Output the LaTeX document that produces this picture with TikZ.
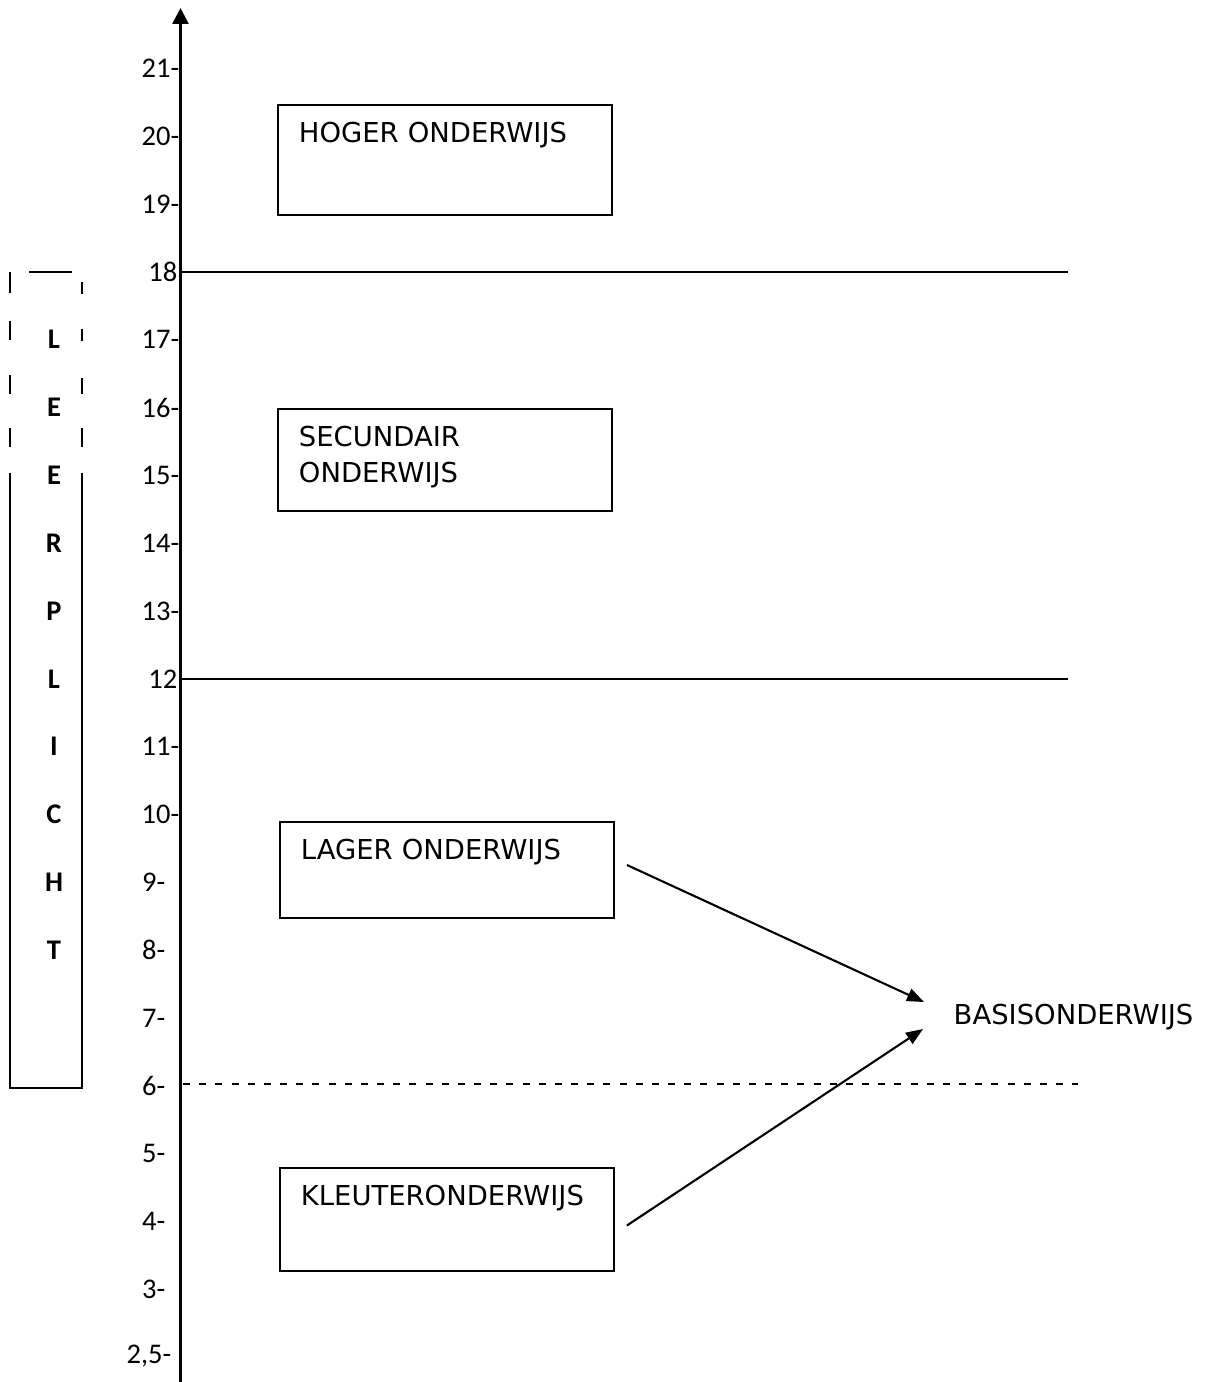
\documentclass[tikz,border=0pt]{standalone}
\usepackage{fontspec}
\setmainfont{Carlito}
\newfontfamily\vsans{DejaVu Sans}
\usetikzlibrary{arrows.meta,calc,positioning}

\begin{document}
\begin{tikzpicture}[x=.1mm,y=-.1mm,>={Triangle[length=1.7mm,width=1.3mm]},
  tick/.style={anchor=east,inner sep=0,font=\fontsize{8.1}{9}\selectfont},
  letter/.style={inner sep=0,font=\fontsize{8.1}{9}\selectfont\bfseries},
  stage/.style={draw,line width=.55pt,anchor=north west,align=left,text width=29.2mm,inner xsep=2.1mm,inner ysep=1.8mm,text height=2mm,font=\vsans\fontsize{7.8}{10.1}\selectfont},
  flow/.style={->,line width=.6pt}]
\useasboundingbox (0,0) rectangle (1208,1382);
\draw[line width=.75pt,-{Triangle[length=1.6mm,width=1.6mm]}] (180.5,1382) -- (180.5,8);
\draw[line width=.5pt] (180,271.8) -- (1068,271.8) (180,678.9) -- (1068,678.9);
\draw[line width=.4pt,dash pattern=on 2pt off 2.6pt] (183,1084) -- (1078,1084);
\foreach \v in {21,20,19,17,16,15,14,13,11,10} \node[tick] (a\v) at (180,{1086-(\v-6)*67.85}) {\v-};
\node[tick] (a18) at (178,271.8) {18};\node[tick] (a12) at (178,678.9) {12};
\foreach \v in {9,...,3} \node[tick] (a\v) at (166,{1086-(\v-6)*67.85}) {\v-};
\node[tick] (a25) at (172,1356) {2,5-};
\draw[line width=.55pt] (29,271.7) -- (72,271.7);
\foreach \a/\b in {272/293,321/340,375/394,428/447} \draw[line width=.55pt] (10,\a) -- (10,\b);
\foreach \a/\b in {282/294,329/341,378/394,428/447} \draw[line width=.55pt] (82,\a) -- (82,\b);
\draw[line width=.55pt] (10,473) -- (10,1088) -- (82,1088) -- (82,473);
\foreach \c [count=\i] in {L,E,E,R,P,L,I,C,H,T} \node[letter] (c\i) at (54,{1086-(12-\i)*67.85}) {\c};
\node[stage,text depth=5.4mm] (hoger) at (277,104) {HOGER ONDERWIJS};
\node[stage,text depth=4.6mm] (secundair) at (277,408) {SECUNDAIR\\ONDERWIJS};
\node[stage,text depth=4mm] (lager) at (279,821) {LAGER ONDERWIJS};
\node[stage,text depth=4.7mm] (kleuter) at (279,1167) {KLEUTERONDERWIJS};
\node[anchor=base west,inner sep=0,font=\vsans\fontsize{7.8}{10.1}\selectfont] (basis) at (953,1024) {BASISONDERWIJS};
\coordinate (intop) at ($(basis.base west)+(-29,-22)$);
\coordinate (inbot) at ($(basis.base west)+(-30,5)$);
\draw[flow] ($(lager.east)+(12,-5)$) -- (intop);
\draw[flow] ($(kleuter.east)+(12,6)$) -- (inbot);
\end{tikzpicture}
\end{document}
